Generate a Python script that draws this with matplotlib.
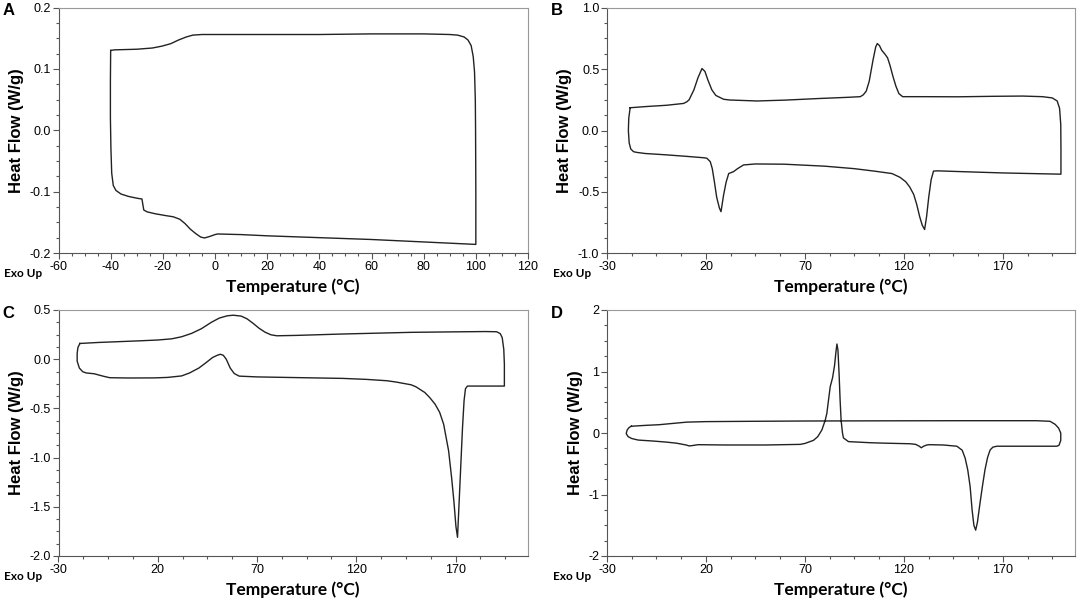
import matplotlib
matplotlib.use("Agg")
import matplotlib.pyplot as plt
from matplotlib.ticker import AutoMinorLocator, MultipleLocator

plt.rcParams["axes.unicode_minus"] = False

# --- data (closed loops: upper trace, right end, lower trace, left end) ---

# A
a_temp = [-40.0, -38.5, -30, -24, -20.4, -17, -14, -11, -8.5, -5, 0, 20, 40, 60, 80, 90, 93,
          95.5, 97, 98.2, 99.0, 99.5, 99.8, 99.9, 100, 100,
          80, 60, 40, 20, 10, 1, 0, -2, -4, -5.5, -7.5, -9.5, -11.5, -13.5, -16, -19, -23,
          -26, -27.3, -27.7, -28, -29.6, -33, -36, -38, -39, -39.6, -39.9, -40.1, -40.1, -40.0]
a_hf = [0.130, 0.131, 0.132, 0.134, 0.137, 0.141, 0.147, 0.152, 0.155, 0.156, 0.156, 0.156,
        0.156, 0.157, 0.157, 0.156, 0.155, 0.152, 0.147, 0.138, 0.120, 0.095, 0.05, 0.0, -0.1, -0.186,
        -0.182, -0.178, -0.175, -0.172, -0.170, -0.169, -0.170, -0.173, -0.1755, -0.174, -0.168,
        -0.161, -0.152, -0.145, -0.141, -0.139, -0.136, -0.133, -0.130, -0.120, -0.112, -0.111,
        -0.108, -0.104, -0.098, -0.090, -0.070, -0.030, 0.020, 0.080, 0.130]

# B
b_temp = [-18.3, -10, 0, 8.7, 10.4, 11.5, 13.9, 16, 18, 19.5, 21, 23, 25, 28.9, 32, 45.8, 60, 77,
          92, 98, 99.5, 101, 102.5, 104.4, 105.8, 106.6, 107.7, 108.8, 110.5, 111.8, 113, 114.5,
          116, 117.5, 119.4, 130, 147.5, 165, 180, 190, 195, 197.5, 198.7, 199.3, 199.4, 199.4,
          190, 170, 150, 137, 135, 133.8, 132.6, 131.5, 130.5, 129.3, 128, 126.5, 125, 123, 121,
          118, 114, 105, 94.8, 80, 59.6, 45, 39, 36, 33.9, 31.5, 30.2, 28.9, 28, 27.6, 26.8, 26,
          25.4, 24.3, 23.2, 22.2, 20.5, 19.2, 10, 0, -10.7, -15, -16.6, -18, -18.8, -19.2, -19.0, -18.3]
b_hf = [0.185, 0.195, 0.205, 0.22, 0.234, 0.25, 0.33, 0.43, 0.504, 0.48, 0.41, 0.33, 0.285, 0.254,
        0.248, 0.24, 0.247, 0.26, 0.27, 0.275, 0.29, 0.32, 0.40, 0.57, 0.68, 0.707, 0.69, 0.653,
        0.62, 0.59, 0.53, 0.44, 0.36, 0.30, 0.275, 0.275, 0.274, 0.278, 0.28, 0.275, 0.265, 0.24,
        0.18, 0.05, -0.15, -0.355,
        -0.352, -0.345, -0.335, -0.328, -0.33, -0.40, -0.54, -0.70, -0.805, -0.77, -0.70, -0.60,
        -0.52, -0.46, -0.417, -0.38, -0.35, -0.33, -0.31, -0.29, -0.274, -0.272, -0.28, -0.31,
        -0.335, -0.35, -0.42, -0.526, -0.62, -0.66, -0.63, -0.58, -0.54, -0.42, -0.31, -0.254,
        -0.226, -0.222, -0.21, -0.198, -0.187, -0.178, -0.172, -0.15, -0.10, 0.0, 0.10, 0.185]

# C
c_temp = [-19.2, -10, 0, 10, 20, 27, 32, 37, 42, 47, 51, 55, 58, 62, 65, 68, 71, 74, 77, 80, 90,
          113, 147.6, 170, 185, 190.7, 192.5, 193.5, 194.3, 194.6, 194.6,
          185, 176, 175, 174.3, 173.5, 172.6, 171.7, 171, 170.2, 169.2, 168, 166.5, 164, 162,
          159.7, 157, 154.5, 150, 147.6, 140, 135.5, 125, 113, 90, 70, 61, 58.5, 56.5, 54.5, 53,
          51.5, 50, 47.6, 44, 40.7, 36, 32, 25, 18.3, 5, -4.2, -7, -9.3, -12, -16, -17.8, -19.5,
          -20.6, -20.6, -20.2, -19.2]
c_hf = [0.160, 0.170, 0.178, 0.186, 0.195, 0.207, 0.228, 0.262, 0.31, 0.375, 0.418, 0.441, 0.447,
        0.438, 0.41, 0.365, 0.315, 0.275, 0.248, 0.238, 0.242, 0.256, 0.273, 0.278, 0.281, 0.279,
        0.26, 0.22, 0.10, -0.05, -0.273,
        -0.273, -0.273, -0.30, -0.42, -0.70, -1.10, -1.50, -1.81, -1.70, -1.45, -1.20, -0.93,
        -0.66, -0.54, -0.457, -0.39, -0.338, -0.28, -0.26, -0.232, -0.219, -0.205, -0.195, -0.187,
        -0.180, -0.172, -0.145, -0.09, 0.0, 0.04, 0.05, 0.04, 0.017, -0.04, -0.09, -0.14, -0.170,
        -0.185, -0.19, -0.191, -0.188, -0.175, -0.163, -0.148, -0.140, -0.127, -0.09, -0.02,
        0.06, 0.12, 0.160]

# D
d_temp = [-17.7, -10, -3.6, 3, 10.4, 20, 42, 70, 110, 150, 187, 193.9, 196.5, 198.2, 199.3, 199.3,
          198.4, 197.3,
          188, 167, 165, 163.6, 162.3, 161, 159.7, 158.5, 157.2, 156.3, 155.4, 154.5, 153.5, 152.3,
          151, 149.5, 146.8, 140, 133, 131.6, 130, 128.8, 127.8, 126, 123.2, 110, 103, 92, 89.5,
          89, 88.3, 87.8, 87.3, 86.7, 86.2, 85.8, 85, 84, 82.8, 82, 81.1, 80.3, 78.6, 76.5, 74.3,
          70, 67.6, 50, 30, 16, 13, 11.5, 10, 5, 0, -7, -14.2, -17.5, -19.3, -20.3, -19.8, -18.8,
          -17.7]
d_hf = [0.11, 0.125, 0.135, 0.155, 0.177, 0.185, 0.19, 0.195, 0.198, 0.2, 0.2, 0.19, 0.14, 0.08,
        0.0, -0.12, -0.2, -0.215,
        -0.215, -0.215, -0.23, -0.276, -0.40, -0.60, -0.87, -1.14, -1.45, -1.58, -1.50, -1.25,
        -0.87, -0.60, -0.41, -0.28, -0.215, -0.195, -0.19, -0.195, -0.215, -0.24, -0.215, -0.185,
        -0.175, -0.165, -0.158, -0.14, -0.08, 0.0, 0.21, 0.536, 0.95, 1.35, 1.447, 1.35, 1.1,
        0.90, 0.753, 0.55, 0.32, 0.21, 0.05, -0.06, -0.12, -0.17, -0.185, -0.195, -0.195, -0.19,
        -0.205, -0.21, -0.195, -0.165, -0.148, -0.13, -0.115, -0.09, -0.06, -0.01, 0.05, 0.09, 0.11]

# panel settings
letters = ["A", "B", "C", "D"]
xlims = [(-60, 120), (-30, 206.5), (-30, 206.5), (-30, 206.5)]
# major step, offset, minor step, offset
xticks = [(20, 0, 5, 0), (50, 20, 12.5, 7.5), (50, 20, 12.5, 7.5), (50, 20, 12.5, 7.5)]
ylims = [(-0.2, 0.2), (-1.0, 1.0), (-2.0, 0.5), (-2, 2)]
ymajor = [0.1, 0.5, 0.5, 1]
yfmt = ["%.1f", "%.1f", "%.1f", "%d"]
temps = [a_temp, b_temp, c_temp, d_temp]
flows = [a_hf, b_hf, c_hf, d_hf]

W, H = 1084, 603
fig = plt.figure(figsize=(W / 100, H / 100), dpi=100)

# axes boxes in pixels: left, right, top, bottom
boxes = [(58.5, 528, 7.5, 253), (607, 1075, 7.5, 253.5), (58.5, 528, 310, 556), (607, 1075, 310, 556)]

label_font = ["Lato", "DejaVu Sans"]
tick_font = "Liberation Sans"

for i in range(4):
    l, r, t, b = boxes[i]
    ax = fig.add_axes([l / W, 1 - b / H, (r - l) / W, (b - t) / H])
    ax.plot(temps[i], flows[i], color="#222222", lw=1.0)
    ax.set_xlim(xlims[i])
    ax.set_ylim(ylims[i])
    mj, mjo, mn, mno = xticks[i]
    ax.xaxis.set_major_locator(MultipleLocator(mj, offset=mjo))
    ax.xaxis.set_minor_locator(MultipleLocator(mn, offset=mno))
    ax.yaxis.set_major_locator(MultipleLocator(ymajor[i]))
    ax.yaxis.set_minor_locator(AutoMinorLocator(4))
    ax.yaxis.set_major_formatter(plt.FormatStrFormatter(yfmt[i]))
    ax.xaxis.set_major_formatter(plt.FormatStrFormatter("%d"))
    ax.tick_params(which="major", direction="out", length=4, width=0.8, color="#555555",
                   labelsize=9, pad=1.5)
    ax.tick_params(which="minor", direction="out", length=2, width=0.8, color="#555555")
    for lab in ax.get_xticklabels() + ax.get_yticklabels():
        lab.set_family(tick_font)
    for side in ["left", "bottom"]:
        ax.spines[side].set_color("#555555")
    for side in ["top", "right"]:
        ax.spines[side].set_color("#999999")
    ax.set_ylabel("Heat Flow (W/g)", family="Liberation Sans", fontweight="bold", fontsize=12,
                  labelpad=4)
    ax.set_xlabel("Temperature (°C)", family=label_font, fontweight="bold", fontsize=12.5,
                  labelpad=4)
    # Exo Up note and panel letter
    fig.text((l - 54) / W, 1 - (b + 20) / H, "Exo Up", family=label_font, fontweight="bold",
             fontsize=8.5, va="center", ha="left")
    fig.text((l - 50) / W, 1 - (t + 3) / H, letters[i], family="Liberation Sans",
             fontweight="bold", fontsize=12, va="center", ha="center")

fig.savefig("out.png", dpi=100)
